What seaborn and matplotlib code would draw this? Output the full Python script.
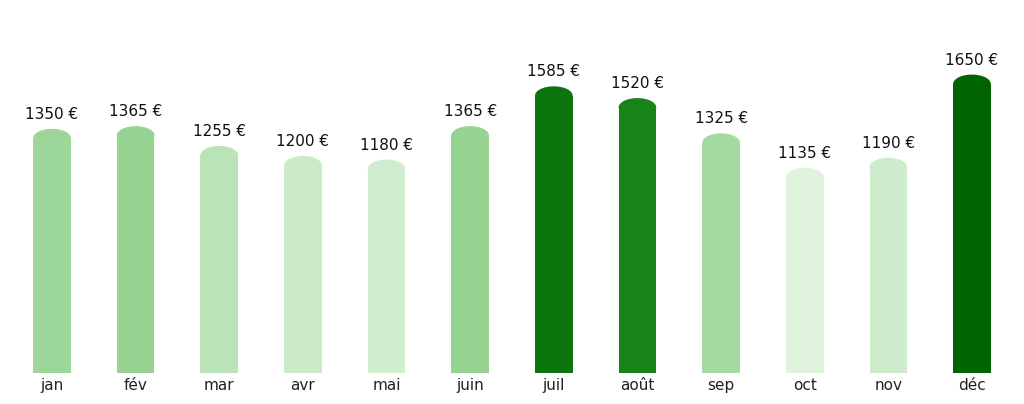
import matplotlib
matplotlib.use("Agg")
import matplotlib.pyplot as plt
import seaborn as sns
import numpy as np
import pandas as pd
from matplotlib.colors import LinearSegmentedColormap, Normalize
from matplotlib.patches import Ellipse


months = ["jan", "fév", "mar", "avr", "mai", "juin", "juil", "août", "sep", "oct", "nov", "déc"]
amounts = [1350, 1365, 1255, 1200, 1180, 1365, 1585, 1520, 1325, 1135, 1190, 1650]


def make_chart():

    df = pd.DataFrame({"mois": months, "montant": amounts})

    sns.set_style("white")
    plt.rcParams['font.family'] = ['DejaVu Sans']

    # light -> dark green depending on the amount
    cmap = LinearSegmentedColormap.from_list(
        "verts", [(0.0, "#dff3dd"), (0.45, "#97d493"), (0.75, "#188418"), (1.0, "#006400")])
    norm = Normalize(vmin=min(amounts), vmax=max(amounts))
    colors = [cmap(norm(v)) for v in amounts]

    fig = plt.figure(figsize=(10.24, 4.04), dpi=100)
    ax = fig.add_axes([0.01, 0.077, 0.98, 0.923])

    sns.barplot(data=df, x="mois", y="montant", hue="mois", palette=colors,
                legend=False, width=0.45, ax=ax, saturation=1)

    ymax = max(amounts) * 1.25
    ax.set_ylim(0, ymax)
    ax.set_xlim(-0.5, len(months) - 0.5)

    # rounded tops: shorten each bar and put a half ellipse on it
    cap = ymax * 0.025
    for patch, val in zip(ax.patches, amounts):
        x = patch.get_x()
        w = patch.get_width()
        patch.set_height(val - cap)
        patch.set_linewidth(0)
        ax.add_patch(Ellipse((x + w / 2, val - cap), w, 2 * cap,
                             facecolor=patch.get_facecolor(), linewidth=0))
        ax.annotate(f"{val} €", (x + w / 2, val), xytext=(0, 5),
                    textcoords="offset points", ha="center", va="bottom",
                    fontsize=11, color="#111111")

    sns.despine(ax=ax, left=True, bottom=True)
    ax.set_yticks([])
    ax.set_xlabel("")
    ax.set_ylabel("")
    ax.tick_params(axis="x", length=0, pad=4, labelsize=11, labelcolor="#222222")

    fig.savefig("out.png", dpi=100)


make_chart()
